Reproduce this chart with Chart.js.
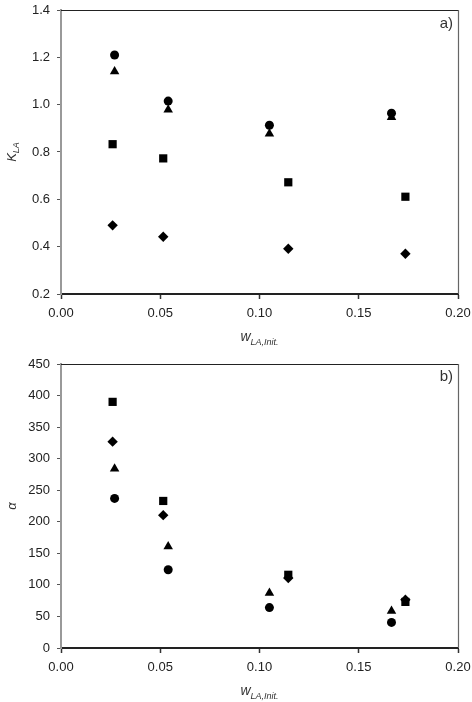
<!DOCTYPE html>
<html>
<head>
<meta charset="utf-8">
<script src="https://cdn.jsdelivr.net/npm/chart.js@4"></script>
<style>
  body { margin: 0; background: #fff; }
  canvas { position: absolute; left: 0; }
  #ctxA { top: 0; }
  #ctxB { top: 350px; }
</style>
</head>
<body>
<canvas id="ctxA" width="472" height="350"></canvas>
<canvas id="ctxB" width="472" height="352"></canvas>
<script>
// x positions (w_LA,Init.)
const xCircTri = [0.027, 0.054, 0.105, 0.1665]
const xSqDia = [0.026, 0.0515, 0.1145, 0.1735]

// panel a) K_LA
const kCircle = [1.21, 1.015, 0.913, 0.964]
const kTriangle = [1.14, 0.979, 0.877, 0.947]
const kSquare = [0.833, 0.773, 0.672, 0.611]
const kDiamond = [0.490, 0.442, 0.391, 0.370]

// panel b) alpha
const aCircle = [237, 124, 64, 40.5]
const aTriangle = [284, 161, 87, 58.6]
const aSquare = [390, 233, 116, 73]
const aDiamond = [327, 210.5, 111, 76.5]

const xTicks = [0, 0.05, 0.10, 0.15, 0.20]
const kTicks = [0.2, 0.4, 0.6, 0.8, 1.0, 1.2, 1.4]
const aTicks = [0, 50, 100, 150, 200, 250, 300, 350, 400, 450]

const FONT = '"Liberation Sans", Arial, sans-serif'

const pts = (xs, ys) => xs.map((x, i) => ({x, y: ys[i]}))

const series = (xs, ys, style, radius) => ({
  data: pts(xs, ys),
  pointStyle: style,
  pointRadius: radius,
  backgroundColor: '#000',
  borderColor: '#000',
  borderWidth: 0,
  showLine: false
})

const frame = {
  id: 'frame',
  afterDraw: (chart, args, opts) => {
    const {ctx} = chart
    const {left, right, top, bottom} = chart.chartArea
    ctx.save()
    ctx.strokeStyle = '#222'
    ctx.lineWidth = 1.2
    ctx.beginPath()
    ctx.moveTo(left, top + 0.5)
    ctx.lineTo(right, top + 0.5)
    ctx.stroke()
    ctx.strokeStyle = '#666'
    ctx.beginPath()
    ctx.moveTo(right + 0.5, top)
    ctx.lineTo(right + 0.5, bottom)
    ctx.stroke()

    // panel letter
    ctx.fillStyle = '#333'
    ctx.font = '15px ' + FONT
    ctx.textAlign = 'right'
    ctx.textBaseline = 'middle'
    ctx.fillText(opts.panel, right - 5, top + opts.panelDy)

    // x title: w with subscript
    const cx = (left + right) / 2
    const ty = opts.xTitleY
    ctx.textAlign = 'left'
    ctx.textBaseline = 'alphabetic'
    ctx.fillStyle = '#333'
    ctx.font = 'italic 14px ' + FONT
    const w1 = ctx.measureText('w').width
    ctx.font = 'italic 9px ' + FONT
    const w2 = ctx.measureText('LA,Init.').width
    const x0 = cx - (w1 + w2) / 2
    ctx.font = 'italic 14px ' + FONT
    ctx.fillText('w', x0, ty)
    ctx.font = 'italic 9px ' + FONT
    ctx.fillText('LA,Init.', x0 + w1, ty + 4)

    // y title, rotated
    ctx.translate(opts.yTitleX, opts.yTitleY)
    ctx.rotate(-Math.PI / 2)
    ctx.font = 'italic 13px ' + FONT
    const m1 = ctx.measureText(opts.yMain).width
    ctx.font = 'italic 9px ' + FONT
    const m2 = opts.ySub ? ctx.measureText(opts.ySub).width : 0
    const s0 = -(m1 + m2) / 2
    ctx.font = 'italic 13px ' + FONT
    ctx.textBaseline = 'middle'
    ctx.fillText(opts.yMain, s0, 0)
    if (opts.ySub) {
      ctx.font = 'italic 9px ' + FONT
      ctx.fillText(opts.ySub, s0 + m1, 4)
    }
    ctx.restore()
  }
}

const makeChart = (el, datasets, yTicks, yDecimals, chartH, padTop, frameOpts) => new Chart(el, {
  type: 'scatter',
  data: {datasets},
  options: {
    responsive: false,
    animation: false,
    layout: {padding: {top: padTop, right: 14, left: 0, bottom: 0}},
    plugins: {
      legend: {display: false},
      tooltip: {enabled: false},
      frame: frameOpts
    },
    scales: {
      x: {
        type: 'linear',
        min: 0, max: 0.2,
        afterBuildTicks: s => { s.ticks = xTicks.map(v => ({value: v})) },
        afterFit: s => {
          s.height = chartH - frameOpts.plotBottom
          s.paddingLeft = 0
          s.paddingRight = 0
        },
        border: {display: true, color: '#222', width: 2},
        grid: {drawOnChartArea: false, drawTicks: true, tickLength: 5, tickColor: '#333', tickWidth: 1.5},
        ticks: {
          color: '#222',
          padding: 7,
          maxRotation: 0,
          font: {family: FONT, size: 13},
          callback: v => v.toFixed(2)
        }
      },
      y: {
        type: 'linear',
        min: yTicks[0], max: yTicks[yTicks.length - 1],
        afterBuildTicks: s => { s.ticks = yTicks.map(v => ({value: v})) },
        afterFit: s => {
          s.width = 61
          s.paddingTop = 0
          s.paddingBottom = 0
        },
        border: {display: true, color: '#999', width: 2},
        grid: {drawOnChartArea: false, drawTicks: true, tickLength: 4, tickColor: '#555', tickWidth: 1},
        ticks: {
          color: '#222',
          padding: 7,
          font: {family: FONT, size: 13},
          callback: v => v.toFixed(yDecimals)
        }
      }
    }
  },
  plugins: [frame]
})

makeChart(document.getElementById('ctxA'), [
  series(xCircTri, kCircle, 'circle', 4.5),
  series(xCircTri, kTriangle, 'triangle', 5.5),
  series(xSqDia, kSquare, 'rect', 5.8),
  series(xSqDia, kDiamond, 'rectRot', 5.2)
], kTicks, 1, 350, 10, {
  panel: 'a)', panelDy: 14, plotBottom: 294,
  xTitleY: 341, yTitleX: 12, yTitleY: 152, yMain: 'K', ySub: 'LA'
})

makeChart(document.getElementById('ctxB'), [
  series(xCircTri, aCircle, 'circle', 4.5),
  series(xCircTri, aTriangle, 'triangle', 5.5),
  series(xSqDia, aSquare, 'rect', 5.8),
  series(xSqDia, aDiamond, 'rectRot', 5.2)
], aTicks, 0, 352, 14, {
  panel: 'b)', panelDy: 13, plotBottom: 298,
  xTitleY: 345, yTitleX: 12, yTitleY: 156, yMain: 'α', ySub: ''
})
</script>
</body>
</html>
